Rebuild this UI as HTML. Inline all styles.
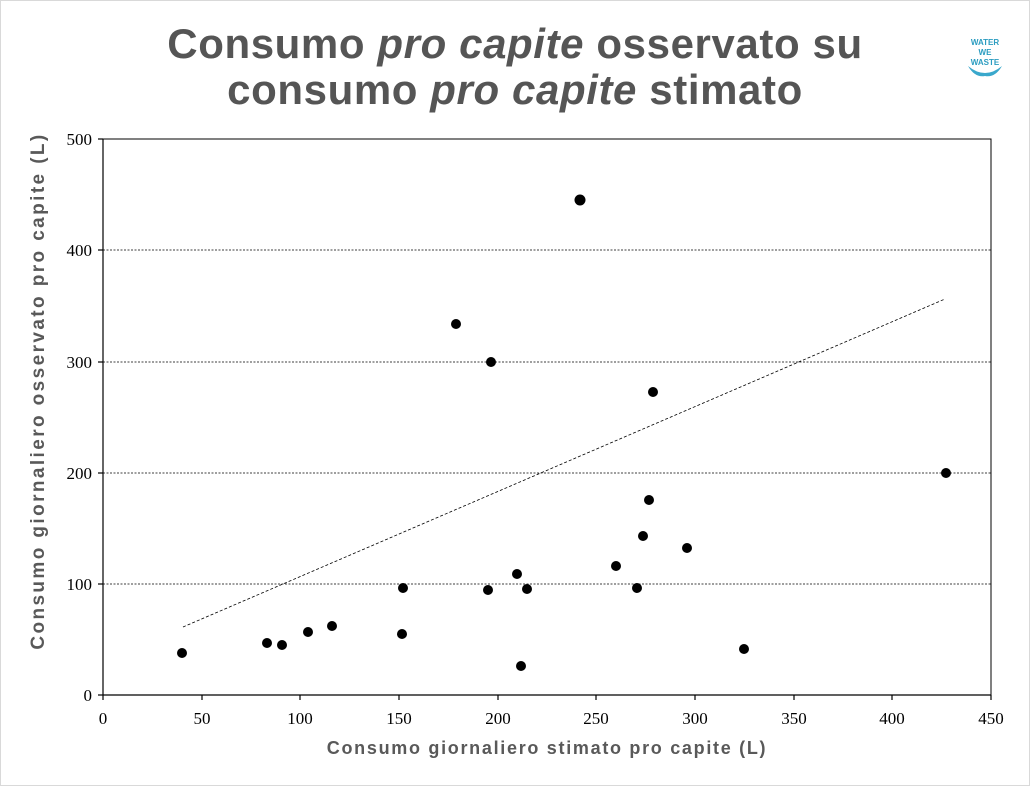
<!DOCTYPE html>
<html><head><meta charset="utf-8"><style>
body{margin:0;width:1030px;height:786px;background:#fff;overflow:hidden;}
.f{position:absolute;left:0;top:0;width:1028px;height:784px;border:1px solid #d9d9d9;}
</style></head><body>
<div class="f"></div>
<svg width="1030" height="786" style="position:absolute;left:0;top:0">
<text x="515" y="58" text-anchor="middle" font-family="Liberation Sans, sans-serif" font-weight="bold" font-size="42" letter-spacing="0.6" fill="#555">Consumo <tspan font-style="italic">pro capite</tspan> osservato su</text>
<text x="515" y="104" text-anchor="middle" font-family="Liberation Sans, sans-serif" font-weight="bold" font-size="42" letter-spacing="0.6" fill="#555">consumo <tspan font-style="italic">pro capite</tspan> stimato</text>
<g font-family="Liberation Sans, sans-serif" font-weight="bold" font-size="8" fill="#2a9cc0" text-anchor="middle">
<text x="985" y="45">WATER</text><text x="985" y="55">WE</text><text x="985" y="65">WASTE</text>
<path d="M968 66 Q985 80 1002 66 Q995 78 985 76 Q975 78 968 66Z" fill="#3aa8cc"/>
</g>
<rect x="103" y="139" width="888" height="556" fill="none" stroke="#000" stroke-width="1"/>
<g stroke="#000" stroke-width="0.8" stroke-dasharray="2,1.5">
<line x1="103" y1="584" x2="991" y2="584"/><line x1="103" y1="473" x2="991" y2="473"/>
<line x1="103" y1="362" x2="991" y2="362"/><line x1="103" y1="250" x2="991" y2="250"/>
</g>
<g stroke="#000" stroke-width="1.2">
<line x1="103" y1="695" x2="991" y2="695"/><line x1="103" y1="139" x2="103" y2="695"/>
<line x1="98" y1="695" x2="103" y2="695"/><line x1="98" y1="584" x2="103" y2="584"/><line x1="98" y1="473" x2="103" y2="473"/><line x1="98" y1="362" x2="103" y2="362"/><line x1="98" y1="250" x2="103" y2="250"/><line x1="98" y1="139" x2="103" y2="139"/>
<line x1="103" y1="695" x2="103" y2="700"/><line x1="202" y1="695" x2="202" y2="700"/><line x1="300" y1="695" x2="300" y2="700"/><line x1="399" y1="695" x2="399" y2="700"/><line x1="498" y1="695" x2="498" y2="700"/><line x1="596" y1="695" x2="596" y2="700"/><line x1="695" y1="695" x2="695" y2="700"/><line x1="794" y1="695" x2="794" y2="700"/><line x1="892" y1="695" x2="892" y2="700"/><line x1="991" y1="695" x2="991" y2="700"/>
</g>
<g font-family="Liberation Serif, serif" font-size="17" text-anchor="end">
<text x="92" y="701">0</text><text x="92" y="590">100</text><text x="92" y="479">200</text><text x="92" y="368">300</text><text x="92" y="256">400</text><text x="92" y="145">500</text>
</g>
<g font-family="Liberation Serif, serif" font-size="17" text-anchor="middle">
<text x="103" y="724">0</text><text x="202" y="724">50</text><text x="300" y="724">100</text><text x="399" y="724">150</text><text x="498" y="724">200</text><text x="596" y="724">250</text><text x="695" y="724">300</text><text x="794" y="724">350</text><text x="892" y="724">400</text><text x="991" y="724">450</text>
</g>
<text x="547" y="754" text-anchor="middle" font-family="Liberation Sans, sans-serif" font-weight="bold" font-size="18" letter-spacing="1.7" fill="#595959">Consumo giornaliero stimato pro capite (L)</text>
<text transform="translate(44,391) rotate(-90)" text-anchor="middle" font-family="Liberation Sans, sans-serif" font-weight="bold" font-size="19" letter-spacing="2.4" fill="#595959">Consumo giornaliero osservato pro capite (L)</text>
<line x1="183" y1="627" x2="945" y2="299" stroke="#000" stroke-width="0.8" stroke-dasharray="3,2"/>
<g fill="#000">
<circle cx="182" cy="653" r="5"/><circle cx="267" cy="643" r="5"/><circle cx="282" cy="645" r="5"/><circle cx="308" cy="632" r="5"/><circle cx="332" cy="626" r="5"/><circle cx="403" cy="588" r="5"/><circle cx="402" cy="634" r="5"/><circle cx="456" cy="324" r="5"/><circle cx="491" cy="362" r="5"/><circle cx="488" cy="590" r="5"/><circle cx="517" cy="574" r="5"/><circle cx="521" cy="666" r="5"/><circle cx="527" cy="589" r="5"/><circle cx="580" cy="200" r="5.5"/><circle cx="616" cy="566" r="5"/><circle cx="637" cy="588" r="5"/><circle cx="643" cy="536" r="5"/><circle cx="649" cy="500" r="5"/><circle cx="653" cy="392" r="5"/><circle cx="687" cy="548" r="5"/><circle cx="744" cy="649" r="5"/><circle cx="946" cy="473" r="5"/>
</g>
</svg>
</body></html>
